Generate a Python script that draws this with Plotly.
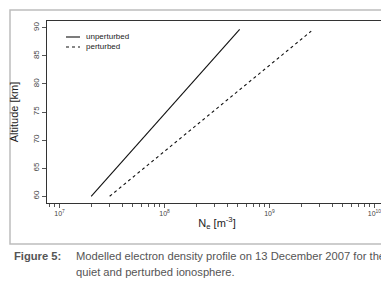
import plotly.graph_objects as go

# Data
alt_unperturbed = [60, 89.7]
ne_unperturbed = [2.0e7, 5.2e8]
alt_perturbed = [60, 89.4]
ne_perturbed = [3.0e7, 2.5e9]

y_ticks = [60, 65, 70, 75, 80, 85, 90]
x_major = [1e7, 1e8, 1e9, 1e10]
x_major_text = ["10<sup>7</sup>", "10<sup>8</sup>", "10<sup>9</sup>", "10<sup>10</sup>"]
x_minor = [m * d for d in [1e6, 1e7, 1e8, 1e9, 1e10] for m in range(2, 10)]

W, H = 389, 285
FONT = "Liberation Sans, Arial"

def px(x):
    return x / W

def py(y):
    return 1 - y / H

fig = go.Figure()
fig.add_trace(go.Scatter(x=ne_unperturbed, y=alt_unperturbed, mode="lines",
                         name="unperturbed", line=dict(color="#111111", width=1.1)))
fig.add_trace(go.Scatter(x=ne_perturbed, y=alt_perturbed, mode="lines",
                         name="perturbed", line=dict(color="#111111", width=1.1, dash="3px,3px")))

axis_col = "#333333"
fig.update_layout(
    width=W, height=H,
    margin=dict(l=0, r=0, t=0, b=0),
    paper_bgcolor="white", plot_bgcolor="white",
    showlegend=False,
    font=dict(family=FONT, color="#333333"),
    xaxis=dict(
        type="log", domain=[px(39), px(379)], range=[6.88, 10.12],
        tickmode="array", tickvals=x_major, ticktext=x_major_text,
        ticks="outside", ticklen=4, tickcolor="#555555", tickwidth=1,
        tickfont=dict(size=7, color="#444444"),
        minor=dict(tickmode="array", tickvals=x_minor, ticks="outside", ticklen=3,
                   tickcolor="#555555", tickwidth=1, showgrid=False),
        showline=True, linecolor=axis_col, linewidth=1, mirror=True,
        showgrid=False, zeroline=False,
        title=dict(text="N<sub>e</sub> [m<sup>-3</sup>]", font=dict(size=11, color="#222222"), standoff=2),
    ),
    yaxis=dict(
        domain=[py(195), py(13)], range=[58.8, 91.2],
        tickmode="array", tickvals=y_ticks,
        ticks="outside", ticklen=4, tickcolor="#555555", tickwidth=1,
        tickangle=-90, tickfont=dict(size=8, color="#444444"),
        showline=True, linecolor=axis_col, linewidth=1, mirror=True,
        showgrid=False, zeroline=False,
        title=dict(text="Altitude [km]", font=dict(size=11, color="#222222"), standoff=14),
    ),
)

# Outer frame
fig.add_shape(type="rect", xref="paper", yref="paper",
              x0=px(2), x1=px(386), y0=py(236), y1=py(2),
              line=dict(color="#bdbdbd", width=1.5), layer="below")

# Legend (drawn manually to match the short sample lines)
fig.add_shape(type="line", xref="paper", yref="paper",
              x0=px(58), x1=px(72), y0=py(29), y1=py(29),
              line=dict(color="#111111", width=1.1))
fig.add_shape(type="line", xref="paper", yref="paper",
              x0=px(58), x1=px(72), y0=py(39), y1=py(39),
              line=dict(color="#111111", width=1.1, dash="3px,3px"))
fig.add_annotation(x=px(76), y=py(29), xref="paper", yref="paper", xanchor="left", yanchor="middle",
                   text="unperturbed", showarrow=False, font=dict(size=8, color="#222222"))
fig.add_annotation(x=px(76), y=py(39), xref="paper", yref="paper", xanchor="left", yanchor="middle",
                   text="perturbed", showarrow=False, font=dict(size=8, color="#222222"))

# Caption
CAP = 11.2
fig.add_annotation(x=px(4), y=py(248), xref="paper", yref="paper", xanchor="left", yanchor="middle",
                   text="<b>Figure 5:</b>", showarrow=False, font=dict(size=CAP, color="#555555"))
fig.add_annotation(x=px(66), y=py(248), xref="paper", yref="paper", xanchor="left", yanchor="middle",
                   text="Modelled electron density profile on 13 December 2007 for the",
                   showarrow=False, font=dict(size=CAP, color="#555555"))
fig.add_annotation(x=px(66), y=py(264), xref="paper", yref="paper", xanchor="left", yanchor="middle",
                   text="quiet and perturbed ionosphere.",
                   showarrow=False, font=dict(size=CAP, color="#555555"))

fig.write_html("out.html")
